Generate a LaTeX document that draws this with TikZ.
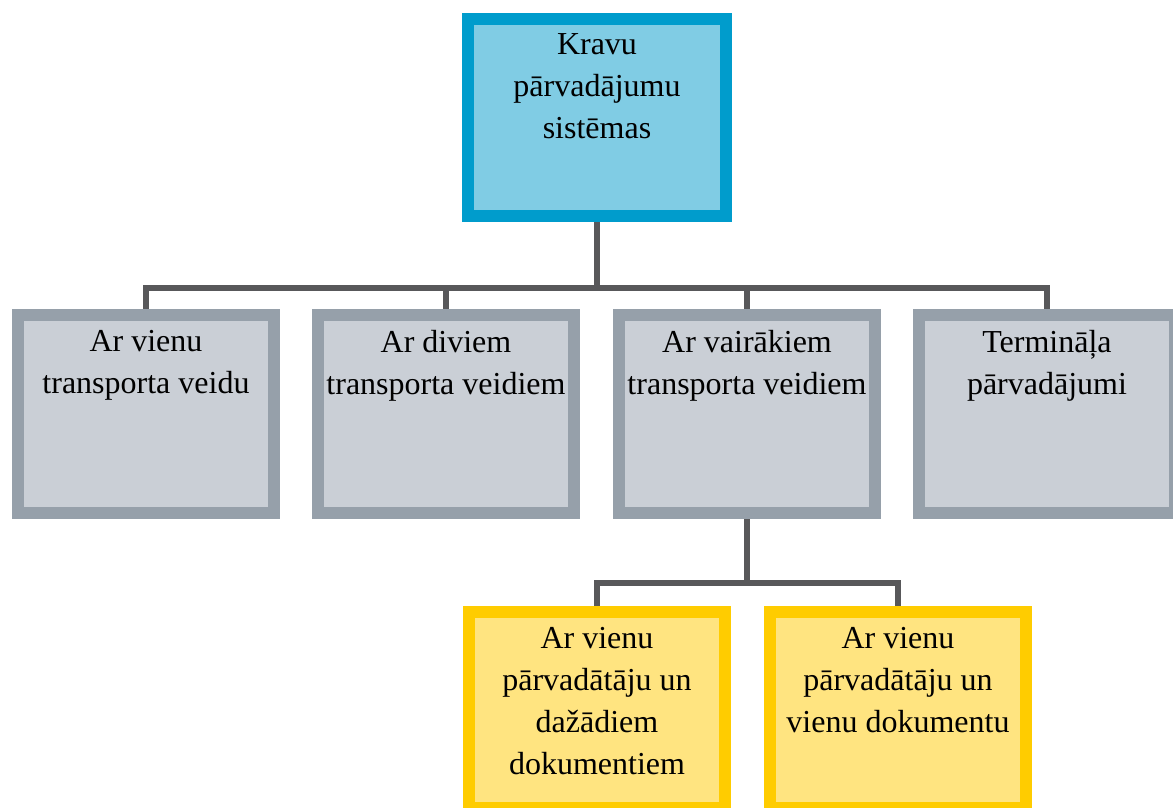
\documentclass[tikz,border=0pt]{standalone}
\usepackage{fontspec}
\setmainfont{Liberation Serif}
\usetikzlibrary{positioning}

\definecolor{topline}{RGB}{0,156,204}
\definecolor{topfill}{RGB}{128,204,228}
\definecolor{midline}{RGB}{150,160,170}
\definecolor{midfill}{RGB}{202,207,214}
\definecolor{lowline}{RGB}{255,204,0}
\definecolor{lowfill}{RGB}{255,228,128}
\definecolor{connline}{RGB}{88,88,90}

\tikzset{
    box/.style={draw, line width=6pt, minimum width=128pt, minimum height=99pt, inner sep=0pt},
    topbox/.style={box, draw=topline, fill=topfill, minimum width=129pt, minimum height=98.5pt},
    midbox/.style={box, draw=midline, fill=midfill},
    lowbox/.style={box, draw=lowline, fill=lowfill, minimum height=98pt},
    boxtext/.style={inner sep=0pt, align=center, font=\fontsize{16}{21}\selectfont},
    conn/.style={draw=connline, line width=3pt}
}

\begin{document}
\begin{tikzpicture}[x=0.5pt,y=-0.5pt]
    \useasboundingbox (0,0) rectangle (1173,808);
    % Boxes
    \node[topbox] (sys) at (597,117.5) {};
    \node[midbox] (one) at (146,414) {};
    \node[midbox] (two) at (446,414) {};
    \node[midbox] (multi) at (747,414) {};
    \node[midbox] (term) at (1047,414) {};
    \node[lowbox] (diffdoc) at (597,710) {};
    \node[lowbox] (onedoc) at (898,710) {};
    % Texts
    \node[boxtext, below=10pt of sys.north] (sys-t) {Kravu\\pārvadājumu\\sistēmas};
    \node[boxtext, below=10.5pt of one.north] (one-t) {Ar vienu\\transporta veidu};
    \node[boxtext, below=10.5pt of two.north] (two-t) {Ar diviem\\transporta veidiem};
    \node[boxtext, below=10.5pt of multi.north] (multi-t) {Ar vairākiem\\transporta veidiem};
    \node[boxtext, below=10.5pt of term.north] (term-t) {Termināļa\\pārvadājumi};
    \node[boxtext, below=10.5pt of diffdoc.north] (diffdoc-t) {Ar vienu\\pārvadātāju un\\dažādiem\\dokumentiem};
    \node[boxtext, below=10.5pt of onedoc.north] (onedoc-t) {Ar vienu\\pārvadātāju un\\vienu dokumentu};
    % Connectors
    \coordinate (bus1) at (597,288);
    \coordinate (bus2) at (747,583);
    \foreach \b in {one,two,multi,term} {
        \draw[conn] (sys.south) -- (bus1) -| (\b.north);
    }
    \foreach \b in {diffdoc,onedoc} {
        \draw[conn] (multi.south) -- (bus2) -| (\b.north);
    }
\end{tikzpicture}
\end{document}
